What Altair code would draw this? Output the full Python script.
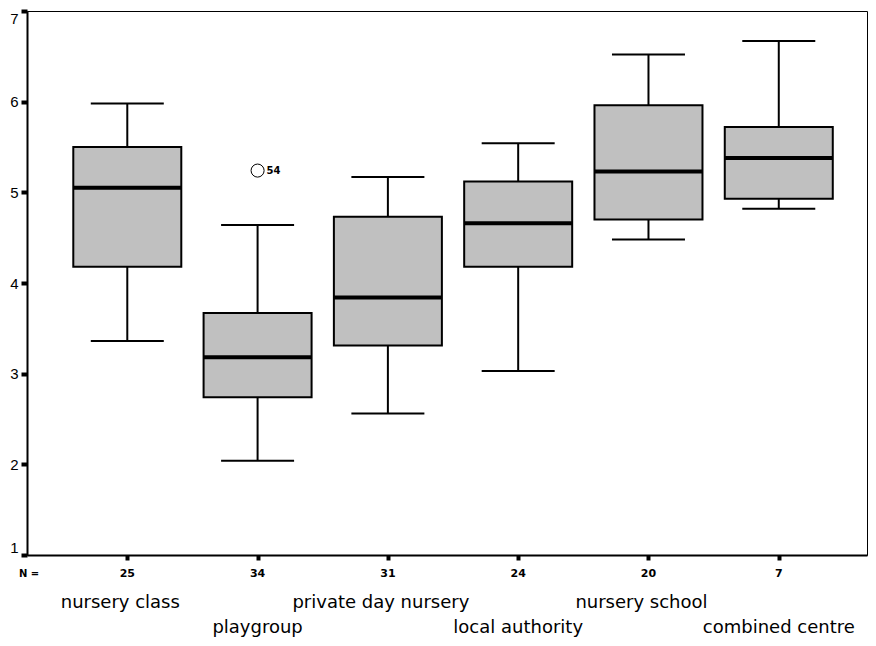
import altair as alt
import pandas as pd

# ---- data ----
categories = ["nursery class", "playgroup", "private day nursery",
              "local authority", "nursery school", "combined centre"]
n_counts = ["25", "34", "31", "24", "20", "7"]
whisker_low = [3.36, 2.04, 2.56, 3.03, 4.48, 4.82]
q1 = [4.18, 2.74, 3.31, 4.18, 4.70, 4.93]
median = [5.05, 3.18, 3.84, 4.66, 5.23, 5.38]
q3 = [5.50, 3.67, 4.73, 5.12, 5.96, 5.72]
whisker_high = [5.98, 4.64, 5.17, 5.54, 6.52, 6.67]
label_row = [1, 2, 1, 2, 1, 2]

outlier_cat = ["playgroup"]
outlier_val = [5.24]
outlier_id = ["54"]

y_ticks = [1, 2, 3, 4, 5, 6, 7]

df = pd.DataFrame({
    "cat": categories, "n": n_counts, "lo": whisker_low, "q1": q1,
    "med": median, "q3": q3, "hi": whisker_high, "row": label_row,
})
out = pd.DataFrame({"cat": outlier_cat, "v": outlier_val, "id": outlier_id})
nlab = pd.DataFrame({"t": ["N ="]})

W, H = 840, 544

x_enc = alt.X(
    "cat:N", sort=categories,
    scale=alt.Scale(type="point", padding=0.7234, align=0.532, domain=categories),
    axis=alt.Axis(labels=False, title=None, ticks=True, tickSize=5, tickWidth=4,
                  tickColor="black", domainColor="black", domainWidth=2, grid=False),
)
y_scale = alt.Scale(domain=[1, 7], nice=False, zero=False)
y_axis = alt.Axis(values=y_ticks, title=None, tickSize=6, tickWidth=4, tickColor="black",
                  domainColor="black", domainWidth=2, labelPadding=3, grid=False,
                  labelFlush=True,
                  labelFont="Liberation Sans", labelFontSize=15, labelColor="black")

base = alt.Chart(df)

whisk_low = base.mark_rule(color="black", strokeWidth=2, opacity=1).encode(
    x=x_enc, y=alt.Y("lo:Q", scale=y_scale, axis=y_axis), y2="q1:Q")
whisk_high = base.mark_rule(color="black", strokeWidth=2, opacity=1).encode(
    x=x_enc, y=alt.Y("q3:Q", scale=y_scale, axis=y_axis), y2="hi:Q")
cap_low = base.mark_tick(color="black", size=73, thickness=2, opacity=1).encode(
    x=x_enc, y=alt.Y("lo:Q", scale=y_scale, axis=y_axis))
cap_high = base.mark_tick(color="black", size=73, thickness=2, opacity=1).encode(
    x=x_enc, y=alt.Y("hi:Q", scale=y_scale, axis=y_axis))
boxes = base.mark_bar(size=108, color="#c0c0c0", stroke="black", strokeWidth=2,
                      opacity=1).encode(
    x=x_enc, y=alt.Y("q1:Q", scale=y_scale, axis=y_axis), y2="q3:Q")
med = base.mark_tick(color="black", size=108, thickness=4, opacity=1).encode(
    x=x_enc, y=alt.Y("med:Q", scale=y_scale, axis=y_axis))

outlier = alt.Chart(out).mark_point(shape="circle", filled=False, color="black",
                                    strokeWidth=1, size=170, opacity=1).encode(
    x=x_enc, y=alt.Y("v:Q", scale=y_scale, axis=y_axis))
outlier_txt = alt.Chart(out).mark_text(align="left", baseline="middle", dx=9, dy=0,
                                       font="DejaVu Sans", fontSize=10, fontWeight="bold",
                                       color="black").encode(
    x=x_enc, y=alt.Y("v:Q", scale=y_scale, axis=y_axis), text="id:N")

counts = base.mark_text(baseline="middle", font="DejaVu Sans", fontSize=11,
                        fontWeight="bold", color="black").encode(
    x=x_enc, y=alt.value(H + 19), text="n:N")
n_text = alt.Chart(nlab).mark_text(baseline="middle", font="DejaVu Sans", fontSize=10,
                                   fontWeight="bold", color="black").encode(
    x=alt.value(2), y=alt.value(H + 19), text="t:N")
row1 = base.transform_filter("datum.row == 1").mark_text(
    baseline="alphabetic", dx=-7, font="DejaVu Sans", fontSize=18, color="black").encode(
    x=x_enc, y=alt.value(H + 53), text="cat:N")
row2 = base.transform_filter("datum.row == 2").mark_text(
    baseline="alphabetic", font="DejaVu Sans", fontSize=18, color="black").encode(
    x=x_enc, y=alt.value(H + 78), text="cat:N")

chart = alt.layer(
    whisk_low, whisk_high, cap_low, cap_high, boxes, med,
    outlier, outlier_txt, counts, n_text, row1, row2,
).properties(
    width=W, height=H,
    autosize=alt.AutoSizeParams(type="none"),
    padding={"left": 19, "top": 3, "right": 1, "bottom": 82},
    background="white",
).configure_view(stroke="black", strokeWidth=1)

chart.save("out.html", embed_options={"renderer": "svg", "actions": False})
